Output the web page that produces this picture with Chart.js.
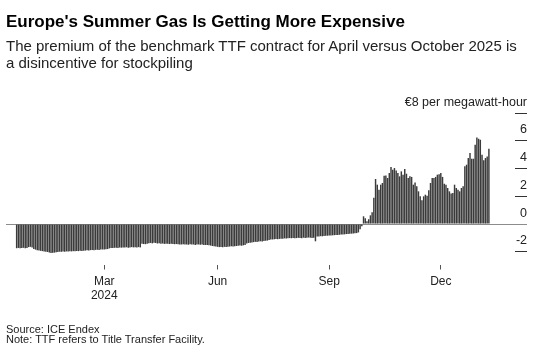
<!DOCTYPE html>
<html><head><meta charset="utf-8">
<script src="https://cdn.jsdelivr.net/npm/chart.js@4.4.1/dist/chart.umd.min.js"></script>
<style>
html,body{margin:0;padding:0;background:#fff;}
body{width:540px;height:360px;position:relative;overflow:hidden;font-family:"Liberation Sans",Arial,Helvetica,sans-serif;}
#wrap{position:absolute;left:0;top:0;width:540px;height:360px;}
.t{position:absolute;left:6px;white-space:nowrap;}
#title{top:11.5px;font-size:17px;line-height:20px;font-weight:bold;color:#000;}
#sub{top:36.6px;font-size:15px;line-height:17.6px;color:#222;}
#src{top:323.2px;font-size:11px;line-height:12px;color:#222;}
#note{top:333.2px;font-size:11px;line-height:12px;color:#222;}
</style></head>
<body>
<div id="wrap"><canvas id="c" width="540" height="360"></canvas></div>
<div class="t" id="title">Europe's Summer Gas Is Getting More Expensive</div>
<div class="t" id="sub">The premium of the benchmark TTF contract for April versus October 2025 is<br>a disincentive for stockpiling</div>
<div class="t" id="src">Source: ICE Endex</div>
<div class="t" id="note">Note: TTF refers to Title Transfer Facility.</div>
<script>
// Trading days start (weekdays from here, one per value)
const START_DATE = '2023-12-21';

// April-vs-October 2025 TTF premium, EUR/MWh
const VALUES_NEG = [
  -1.74,-1.72,-1.75,-1.73,-1.71,-1.74,-1.72,
  -1.66,-1.64,-1.68,
  -1.80,-1.84,-1.88,-1.90,-1.93,
  -1.95,-1.97,-1.99,-2.01,
  -2.05,-2.08,-2.07,-2.06,-2.03,
  -2.01,-1.99,-2.00,-1.98,-1.99,-1.97,-1.98,-1.96,-1.97,-1.95,-1.96,-1.94,-1.95,-1.93,-1.94,-1.92,
  -1.91,-1.89,-1.90,-1.88,-1.87,-1.88,-1.86,-1.85,-1.86,-1.84,-1.83,-1.84,-1.82,-1.80,
  -1.75,-1.72,-1.73,-1.71,-1.70,-1.72,-1.69,-1.70,-1.68,-1.69,-1.67,-1.70,-1.68,-1.66,-1.68,-1.67,-1.69,-1.66,-1.68,
  -1.42,-1.44,-1.45,-1.41,-1.38,-1.36,-1.39,-1.35,-1.37,-1.40,-1.38,
  -1.42,-1.40,-1.43,-1.41,-1.42,-1.44,-1.42,-1.43,-1.45,-1.44,
  -1.46,-1.48,-1.47,-1.45,-1.48,-1.47,-1.49,-1.46,-1.48,-1.47,-1.50,-1.48,-1.47,-1.49,-1.48,-1.50,-1.51,-1.50,
  -1.53,-1.55,-1.58,-1.60,-1.62,-1.64,-1.66,-1.65,-1.67,-1.64,-1.66,-1.63,-1.62,
  -1.60,-1.62,-1.60,-1.58,-1.57,-1.55,-1.56,-1.53,-1.50,
  -1.40,-1.36,-1.34,-1.33,-1.30,-1.28,-1.29,-1.26,-1.24,-1.25,-1.22,-1.20,-1.19,
  -1.14,-1.12,-1.11,-1.10,-1.08,-1.09,-1.07,-1.06,-1.05,-1.03,-1.04,-1.02,-1.01,
  -1.02,-1.00,-1.03,-1.01,-0.99,-1.00,-1.02,-0.98,-1.00,-0.99,-0.97,-0.98,-1.00,-0.98,
  -1.24,
  -0.90,-0.89,-0.87,-0.88,-0.86,-0.85,-0.84,-0.83,-0.82,-0.81,-0.80,-0.79,-0.78,-0.77,
  -0.76,-0.75,-0.74,-0.72,-0.71,-0.70,-0.69,-0.68,-0.66,-0.65,-0.60,
  -0.38,-0.15
];
const VALUES_POS = [
  0.56,0.42,0.20,0.35,0.63,0.85,1.90,3.25,2.84,2.48,
  2.84,2.96,3.49,3.50,3.32,3.68,4.11,3.92,4.04,3.87,
  3.68,3.44,3.80,3.56,3.97,3.63,3.32,3.44,3.40,2.84,
  3.00,2.72,2.36,2.00,1.71,2.00,2.12,2.05,2.43,2.96,
  3.32,3.32,3.40,3.56,3.60,3.68,3.40,2.90,2.84,2.60,
  2.36,2.20,2.24,2.84,2.60,2.48,2.36,2.60,2.72,4.16,
  4.28,4.76,5.12,4.71,4.71,5.72,6.24,6.15,6.08,5.00,
  4.60,4.76,4.88,5.43
];
const VALUES = VALUES_NEG.concat(VALUES_POS);

const TICK_DATES = ['2024-03-01','2024-06-03','2024-09-02','2024-12-02'];
const TICK_LABELS = [['Mar','2024'],'Jun','Sep','Dec'];
const Y_TICKS = [-2,0,2,4,6,8];
const UNIT_LABEL = '€8 per megawatt-hour';

const DATES = [];
{
  const d = new Date(START_DATE + 'T00:00:00Z');
  while (DATES.length < VALUES.length) {
    const wd = d.getUTCDay();
    if (wd !== 0 && wd !== 6) DATES.push(d.toISOString().slice(0,10));
    d.setUTCDate(d.getUTCDate() + 1);
  }
}
const TICK_IDX = TICK_DATES.map(t => DATES.indexOf(t));

const FONT = '"Liberation Sans", Arial, Helvetica, sans-serif';

new Chart(document.getElementById('c'), {
  type: 'bar',
  data: {
    datasets: [{
      data: VALUES.map((v, i) => ({x: i, y: v})),
      backgroundColor: '#3b3b3b',
      borderWidth: 0,
      barPercentage: 0.85,
      categoryPercentage: 1
    }]
  },
  options: {
    responsive: false,
    animation: false,
    devicePixelRatio: 1,
    layout: {padding: {left: 6, right: 1, top: 113.1, bottom: 55}},
    plugins: {legend: {display: false}, tooltip: {enabled: false}},
    scales: {
      x: {
        type: 'linear',
        min: -6.2,
        max: 290.2,
        offset: false,
        afterBuildTicks: s => { s.ticks = TICK_IDX.map(v => ({value: v})); },
        afterFit: s => { s.height = 40; },
        grid: {offset: false, drawOnChartArea: false, drawTicks: true, tickLength: 4.5, color: '#555'},
        border: {display: false},
        ticks: {
          autoSkip: false, maxRotation: 0, padding: 5, color: '#222',
          font: {family: FONT, size: 12},
          callback: v => { const k = TICK_IDX.indexOf(v); return k >= 0 ? TICK_LABELS[k] : ''; }
        }
      },
      y: {
        position: 'right',
        min: -2.95,
        max: 8,
        afterBuildTicks: s => { s.ticks = Y_TICKS.map(v => ({value: v})); },
        afterFit: s => { s.width = 24; },
        grid: {
          drawOnChartArea: true, drawTicks: true, tickLength: 12, lineWidth: 1,
          color: c => (c.tick && c.tick.value === 0) ? '#8c8c8c' : 'rgba(0,0,0,0)',
          tickColor: c => (c.tick && c.tick.value === 0) ? '#8c8c8c' : '#333'
        },
        border: {display: false},
        ticks: {
          mirror: true, padding: 12, labelOffset: -11, color: '#222',
          font: {family: FONT, size: 12.5},
          callback: v => v === 8 ? UNIT_LABEL : String(v)
        }
      }
    }
  }
});
</script>
</body></html>
